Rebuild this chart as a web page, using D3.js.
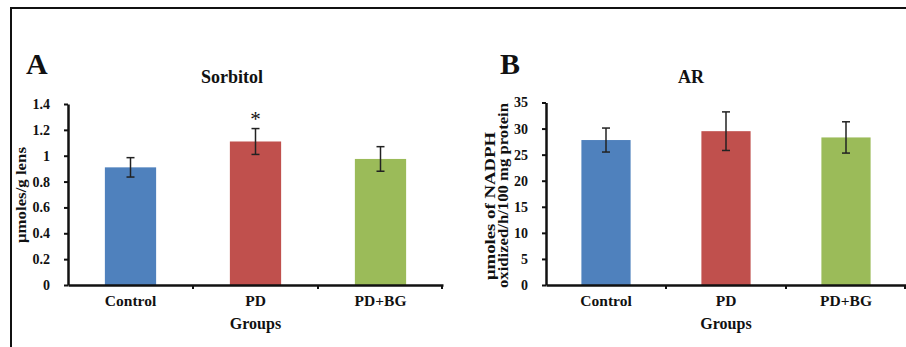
<!DOCTYPE html>
<html>
<head>
<meta charset="utf-8">
<script src="https://cdn.jsdelivr.net/npm/d3@7"></script>
<style>
    body { margin: 0; background: #fff; }
    svg text { font-family: "Liberation Serif", "Times New Roman", serif; font-weight: bold; fill: #111; }
    .bar-axis path, .bar-axis line { stroke: #111; }
</style>
</head>
<body>
<div id="chart"></div>
<script>
// data
var groups = ["Control", "PD", "PD+BG"];
var barColors = ["#4f81bd", "#c0504d", "#9bbb59"];

var sorbitolMeans = [0.91, 1.11, 0.975];
var sorbitolErr = [0.075, 0.1, 0.095];
var sorbitolTicks = [0, 0.2, 0.4, 0.6, 0.8, 1, 1.2, 1.4];
var sorbitolStars = ["", "*", ""];

var arMeans = [27.8, 29.5, 28.3];
var arErr = [2.3, 3.7, 3.0];
var arTicks = [0, 5, 10, 15, 20, 25, 30, 35];
var arStars = ["", "", ""];

var svgWidth = 906;
var svgHeight = 347;

var svg = d3.select("#chart")
    .append("svg")
    .attr("width", svgWidth)
    .attr("height", svgHeight);

// frame (top + left edge of the figure box)
svg.append("line").attr("x1", 10).attr("x2", svgWidth).attr("y1", 8).attr("y2", 8)
    .attr("stroke", "#111").attr("stroke-width", 2);
svg.append("line").attr("x1", 11).attr("x2", 11).attr("y1", 8).attr("y2", svgHeight)
    .attr("stroke", "#111").attr("stroke-width", 2);

var panels = [
    { letter: "A", title: "Sorbitol", means: sorbitolMeans, errs: sorbitolErr, ticks: sorbitolTicks,
      stars: sorbitolStars,
      ylabel: [{ text: "μmoles/g lens", bx: 26, cy: 195, len: 96 }],
      left: 68, right: 443, top: 104, bottom: 285, letterX: 26, titleX: 232 },
    { letter: "B", title: "AR", means: arMeans, errs: arErr, ticks: arTicks,
      stars: arStars,
      ylabel: [{ text: "μmoles of NADPH", bx: 495, cy: 206, len: 148 },
               { text: "oxidized/h/100 mg protein", bx: 507.5, cy: 195.5, len: 185 }],
      left: 546, right: 906, top: 102.5, bottom: 285, letterX: 500, titleX: 691 }
];

panels.forEach(function(p) {
    var g = svg.append("g");

    var xScale = d3.scaleBand()
        .domain(groups)
        .range([p.left, p.right])
        .padding(0);
    var yScale = d3.scaleLinear()
        .domain([0, d3.max(p.ticks)])
        .range([p.bottom, p.top]);

    var barW = xScale.bandwidth() * 0.41;

    // bars
    g.selectAll("rect.bar")
        .data(groups)
        .enter()
        .append("rect")
        .attr("class", "bar")
        .attr("x", (d, i) => xScale(d) + xScale.bandwidth() / 2 - barW / 2)
        .attr("width", barW)
        .attr("y", (d, i) => yScale(p.means[i]))
        .attr("height", (d, i) => yScale(0) - yScale(p.means[i]))
        .attr("fill", (d, i) => barColors[i]);

    // error bars
    var eb = g.selectAll("g.err")
        .data(groups)
        .enter()
        .append("g")
        .attr("class", "err")
        .attr("stroke", "#222")
        .attr("stroke-width", 1.5);
    eb.append("line")
        .attr("x1", d => xScale(d) + xScale.bandwidth() / 2)
        .attr("x2", d => xScale(d) + xScale.bandwidth() / 2)
        .attr("y1", (d, i) => yScale(p.means[i] + p.errs[i]))
        .attr("y2", (d, i) => yScale(p.means[i] - p.errs[i]));
    [1, -1].forEach(function(sign) {
        eb.append("line")
            .attr("x1", d => xScale(d) + xScale.bandwidth() / 2 - 4)
            .attr("x2", d => xScale(d) + xScale.bandwidth() / 2 + 4)
            .attr("y1", (d, i) => yScale(p.means[i] + sign * p.errs[i]))
            .attr("y2", (d, i) => yScale(p.means[i] + sign * p.errs[i]));
    });

    // significance marks
    g.selectAll("text.star")
        .data(groups)
        .enter()
        .append("text")
        .attr("class", "star")
        .attr("x", d => xScale(d) + xScale.bandwidth() / 2)
        .attr("y", (d, i) => yScale(p.means[i] + p.errs[i]) - 3)
        .attr("text-anchor", "middle")
        .style("font-size", "21px")
        .style("font-weight", "normal")
        .attr("fill", "#333")
        .text((d, i) => p.stars[i]);

    // y axis
    var leftAxis = d3.axisLeft(yScale)
        .tickValues(p.ticks)
        .tickFormat(d => String(d))
        .tickSize(4)
        .tickSizeOuter(0)
        .tickPadding(14);
    var yAxis = g.append("g")
        .attr("class", "bar-axis")
        .attr("transform", `translate(${p.left}, 0)`)
        .call(leftAxis);
    yAxis.select(".domain").attr("stroke-width", 2.5);
    yAxis.selectAll(".tick line").attr("stroke-width", 2);
    yAxis.selectAll("text").style("font-size", "14px").attr("fill", "#111");

    // x axis: labels at band centres, ticks at band boundaries
    var bottomAxis = d3.axisBottom(xScale).tickSize(0).tickSizeOuter(0).tickPadding(10);
    var xAxis = g.append("g")
        .attr("class", "bar-axis")
        .attr("transform", `translate(0, ${p.bottom})`)
        .call(bottomAxis);
    xAxis.select(".domain").attr("stroke-width", 2.5);
    xAxis.selectAll("text").style("font-size", "15.5px").attr("fill", "#111");

    var bounds = groups.slice(1).map(d => xScale(d)).concat([xScale.range()[1] - 1]);
    g.selectAll("line.xtick")
        .data(bounds)
        .enter()
        .append("line")
        .attr("class", "xtick")
        .attr("x1", d => d).attr("x2", d => d)
        .attr("y1", p.bottom).attr("y2", p.bottom + 4)
        .attr("stroke", "#111").attr("stroke-width", 2);

    // axis title
    g.append("text")
        .attr("x", (p.left + p.right) / 2)
        .attr("y", 329)
        .attr("text-anchor", "middle")
        .style("font-size", "16px")
        .text("Groups");

    // y label (rotated), stretched along the baseline like the source figure
    p.ylabel.forEach(function(line) {
        g.append("text")
            .attr("transform", `translate(${line.bx}, ${line.cy}) rotate(-90)`)
            .attr("text-anchor", "middle")
            .attr("textLength", line.len)
            .attr("lengthAdjust", "spacingAndGlyphs")
            .style("font-size", "14px")
            .text(line.text);
    });

    // panel letter and title
    g.append("text")
        .attr("x", p.letterX)
        .attr("y", 74)
        .style("font-size", "30px")
        .text(p.letter);
    g.append("text")
        .attr("x", p.titleX)
        .attr("y", 83)
        .attr("text-anchor", "middle")
        .style("font-size", "18px")
        .text(p.title);
});
</script>
</body>
</html>
